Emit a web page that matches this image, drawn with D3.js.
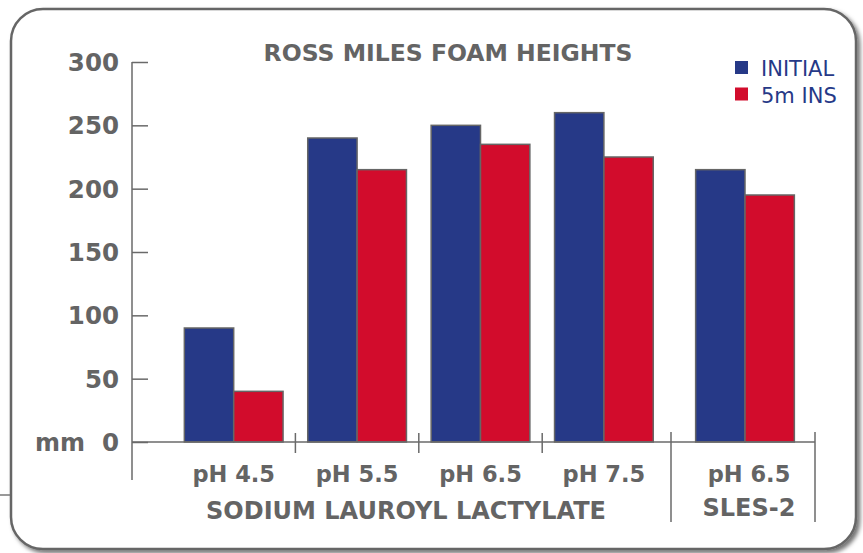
<!DOCTYPE html>
<html>
<head>
  <script src="https://d3js.org/d3.v7.min.js"></script>
  <style>
    html, body { margin: 0; padding: 0; background: #fff; }
    svg { display: block; }
    text { font-family: "DejaVu Sans", sans-serif; font-weight: 700; fill: #646464; }
  </style>
</head>
<body>
  <script>
    // data
    const sllCats = ["pH 4.5", "pH 5.5", "pH 6.5", "pH 7.5"];
    const slesCats = ["pH 6.5"];
    const seriesNames = ["INITIAL", "5m INS"];
    const sllInitial = [90, 240, 250, 260];
    const sllAfter = [40, 215, 235, 225];
    const slesInitial = [215];
    const slesAfter = [195];
    const yTicks = [0, 50, 100, 150, 200, 250, 300];

    const width = 863, height = 553;
    const colors = ["#263987", "#d20c2c"];

    const svg = d3.select("body").append("svg")
      .attr("width", width).attr("height", height);

    // panel with shadow
    const defs = svg.append("defs");
    const f = defs.append("filter").attr("id", "sh").attr("x", "-5%").attr("y", "-5%").attr("width", "110%").attr("height", "110%");
    f.append("feDropShadow").attr("dx", 3).attr("dy", 3).attr("stdDeviation", 2)
      .attr("flood-color", "#000").attr("flood-opacity", 0.55);

    svg.append("rect")
      .attr("x", 11).attr("y", 9).attr("width", 845).attr("height", 540)
      .attr("rx", 32).attr("ry", 32)
      .attr("fill", "#fff").attr("stroke", "#666").attr("stroke-width", 2.5)
      .attr("filter", "url(#sh)");

    svg.append("line").attr("x1", 0).attr("x2", 10).attr("y1", 495).attr("y2", 495)
      .attr("stroke", "#777").attr("stroke-width", 1.5);

    const y = d3.scaleLinear().domain([0, 300]).range([442, 62]);
    const xSll = d3.scaleBand().domain(sllCats).range([172, 665.6]).paddingInner(0.2).paddingOuter(0.1);
    const xSles = d3.scaleBand().domain(slesCats).range([683.3, 806.7]).paddingInner(0.2).paddingOuter(0.1);
    const axisColor = "#6a6a6a";

    // y axis
    const yAxis = svg.append("g").attr("transform", "translate(132,0)")
      .call(d3.axisRight(y).tickValues(yTicks).tickSize(16).tickFormat(""));
    yAxis.select(".domain").remove();
    yAxis.selectAll("line").attr("stroke", axisColor).attr("stroke-width", 1.5);
    svg.append("line").attr("x1", 132).attr("x2", 132).attr("y1", y(300)).attr("y2", 480)
      .attr("stroke", axisColor).attr("stroke-width", 1.5);

    svg.selectAll(".ylab").data(yTicks).join("text")
      .attr("class", "ylab")
      .attr("x", 119).attr("y", d => y(d) + 9)
      .attr("text-anchor", "end")
      .style("font-size", "24.5px")
      .text(d => d);
    svg.append("text").attr("x", 35).attr("y", y(0) + 9)
      .style("font-size", "24px").text("mm");

    // bars
    function drawBars(xs, cats, initial, after) {
      const sub = d3.scaleBand().domain(seriesNames).range([0, xs.bandwidth()]);
      const rows = cats.map((c, i) => ({ cat: c, vals: [initial[i], after[i]] }));
      const g = svg.append("g").selectAll("g").data(rows).join("g")
        .attr("transform", d => `translate(${xs(d.cat)},0)`);
      g.selectAll("rect").data(d => d.vals.map((v, j) => ({ v, j }))).join("rect")
        .attr("x", d => sub(seriesNames[d.j]))
        .attr("y", d => y(d.v))
        .attr("width", sub.bandwidth())
        .attr("height", d => y(0) - y(d.v))
        .attr("fill", d => colors[d.j])
        .attr("stroke", "#666").attr("stroke-width", 1.5);
    }
    drawBars(xSll, sllCats, sllInitial, sllAfter);
    drawBars(xSles, slesCats, slesInitial, slesAfter);

    // x baseline
    svg.append("line").attr("x1", 132).attr("x2", 815).attr("y1", y(0)).attr("y2", y(0))
      .attr("stroke", axisColor).attr("stroke-width", 1.5);

    // short ticks between SLL bands
    const mids = sllCats.slice(1).map((c, i) => (xSll(sllCats[i]) + xSll.bandwidth() + xSll(c)) / 2);
    svg.selectAll(".xt").data(mids).join("line")
      .attr("x1", d => d).attr("x2", d => d).attr("y1", 433).attr("y2", 453)
      .attr("stroke", axisColor).attr("stroke-width", 1.5);
    // group separators
    svg.selectAll(".sep").data([671, 815]).join("line")
      .attr("x1", d => d).attr("x2", d => d).attr("y1", 432).attr("y2", 522)
      .attr("stroke", axisColor).attr("stroke-width", 1.5);

    // category labels
    svg.selectAll(".xl").data(sllCats).join("text")
      .attr("x", d => xSll(d) + xSll.bandwidth() / 2).attr("y", 482)
      .attr("text-anchor", "middle").style("font-size", "22.5px").text(d => d);
    svg.selectAll(".xl2").data(slesCats).join("text")
      .attr("x", d => xSles(d) + xSles.bandwidth() / 2 + 4).attr("y", 482)
      .attr("text-anchor", "middle").style("font-size", "22.5px").text(d => d);
    svg.append("text").attr("x", 406).attr("y", 519)
      .attr("text-anchor", "middle").style("font-size", "24px").text("SODIUM LAUROYL LACTYLATE");
    svg.append("text").attr("x", 749).attr("y", 516)
      .attr("text-anchor", "middle").style("font-size", "24px").text("SLES-2");

    // title
    svg.append("text").attr("x", 448).attr("y", 61)
      .attr("text-anchor", "middle").style("font-size", "23.5px").text("ROSS MILES FOAM HEIGHTS");

    // legend
    const lg = svg.append("g").attr("transform", "translate(735,61)");
    const li = lg.selectAll("g").data(seriesNames).join("g")
      .attr("transform", (d, i) => `translate(0,${i * 26.5})`);
    li.append("rect").attr("width", 13).attr("height", 13).attr("fill", (d, i) => colors[i]);
    li.append("text").attr("x", 26).attr("y", 15)
      .style("font-size", "21px").style("font-weight", 400).style("fill", colors[0])
      .text(d => d);
  </script>
</body>
</html>
